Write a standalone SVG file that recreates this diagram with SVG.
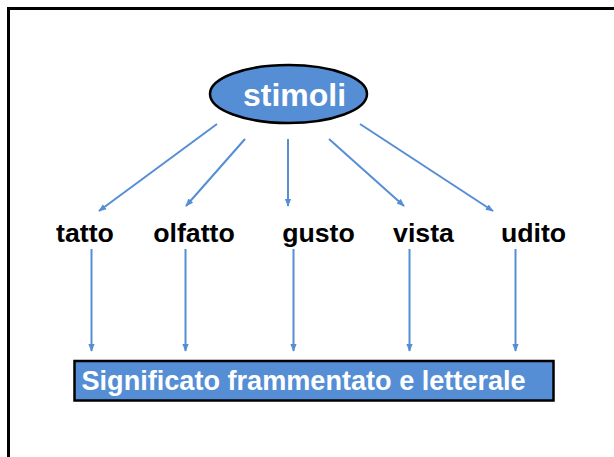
<svg xmlns="http://www.w3.org/2000/svg" width="614" height="457" viewBox="0 0 614 457">
<defs>
<style>
.c{stroke:#558ED5;stroke-width:2;fill:none;marker-end:url(#ah)}
.lbl{font-family:"Liberation Sans",Arial,sans-serif;font-weight:bold;font-size:26.7px;fill:#000;text-anchor:middle}
.w{font-family:"Liberation Sans",Arial,sans-serif;font-weight:bold;fill:#fff}
</style>
<marker id="ah" viewBox="0 0 10 10" refX="9" refY="5" markerWidth="4" markerHeight="4" orient="auto" markerUnits="strokeWidth">
<path d="M0,1 L10,5 L0,9 z" fill="#558ED5"/>
</marker>
</defs>
<rect x="8.5" y="8.5" width="620" height="460" fill="#fff" stroke="#000" stroke-width="3"/>
<g id="connectors">
<line class="c" x1="217" y1="124" x2="99" y2="211"/>
<line class="c" x1="245" y1="139" x2="186" y2="206"/>
<line class="c" x1="288" y1="139" x2="288" y2="206"/>
<line class="c" x1="329" y1="139" x2="404" y2="206"/>
<line class="c" x1="360" y1="124" x2="493" y2="211"/>
<line class="c" x1="91.5" y1="249" x2="91.5" y2="351"/>
<line class="c" x1="185.5" y1="249" x2="185.5" y2="351"/>
<line class="c" x1="293.5" y1="249" x2="293.5" y2="351"/>
<line class="c" x1="409.5" y1="249" x2="409.5" y2="351"/>
<line class="c" x1="515.5" y1="249" x2="515.5" y2="351"/>
</g>
<g id="stimoli">
<ellipse cx="288.5" cy="94" rx="78.5" ry="29" fill="#558ED5" stroke="#000" stroke-width="2.5"/>
<text class="w" x="294.5" y="105.5" font-size="32" text-anchor="middle">stimoli</text>
</g>
<g id="tatto"><text class="lbl" x="85" y="242">tatto</text></g>
<g id="olfatto"><text class="lbl" x="194" y="242">olfatto</text></g>
<g id="gusto"><text class="lbl" x="318.5" y="242">gusto</text></g>
<g id="vista"><text class="lbl" x="423.5" y="242">vista</text></g>
<g id="udito"><text class="lbl" x="533.5" y="242">udito</text></g>
<g id="significato">
<rect x="74.5" y="361" width="479" height="39.5" fill="#558ED5" stroke="#000" stroke-width="2.5"/>
<text class="w" x="81.5" y="390" font-size="27.1">Significato frammentato e letterale</text>
</g>
</svg>
